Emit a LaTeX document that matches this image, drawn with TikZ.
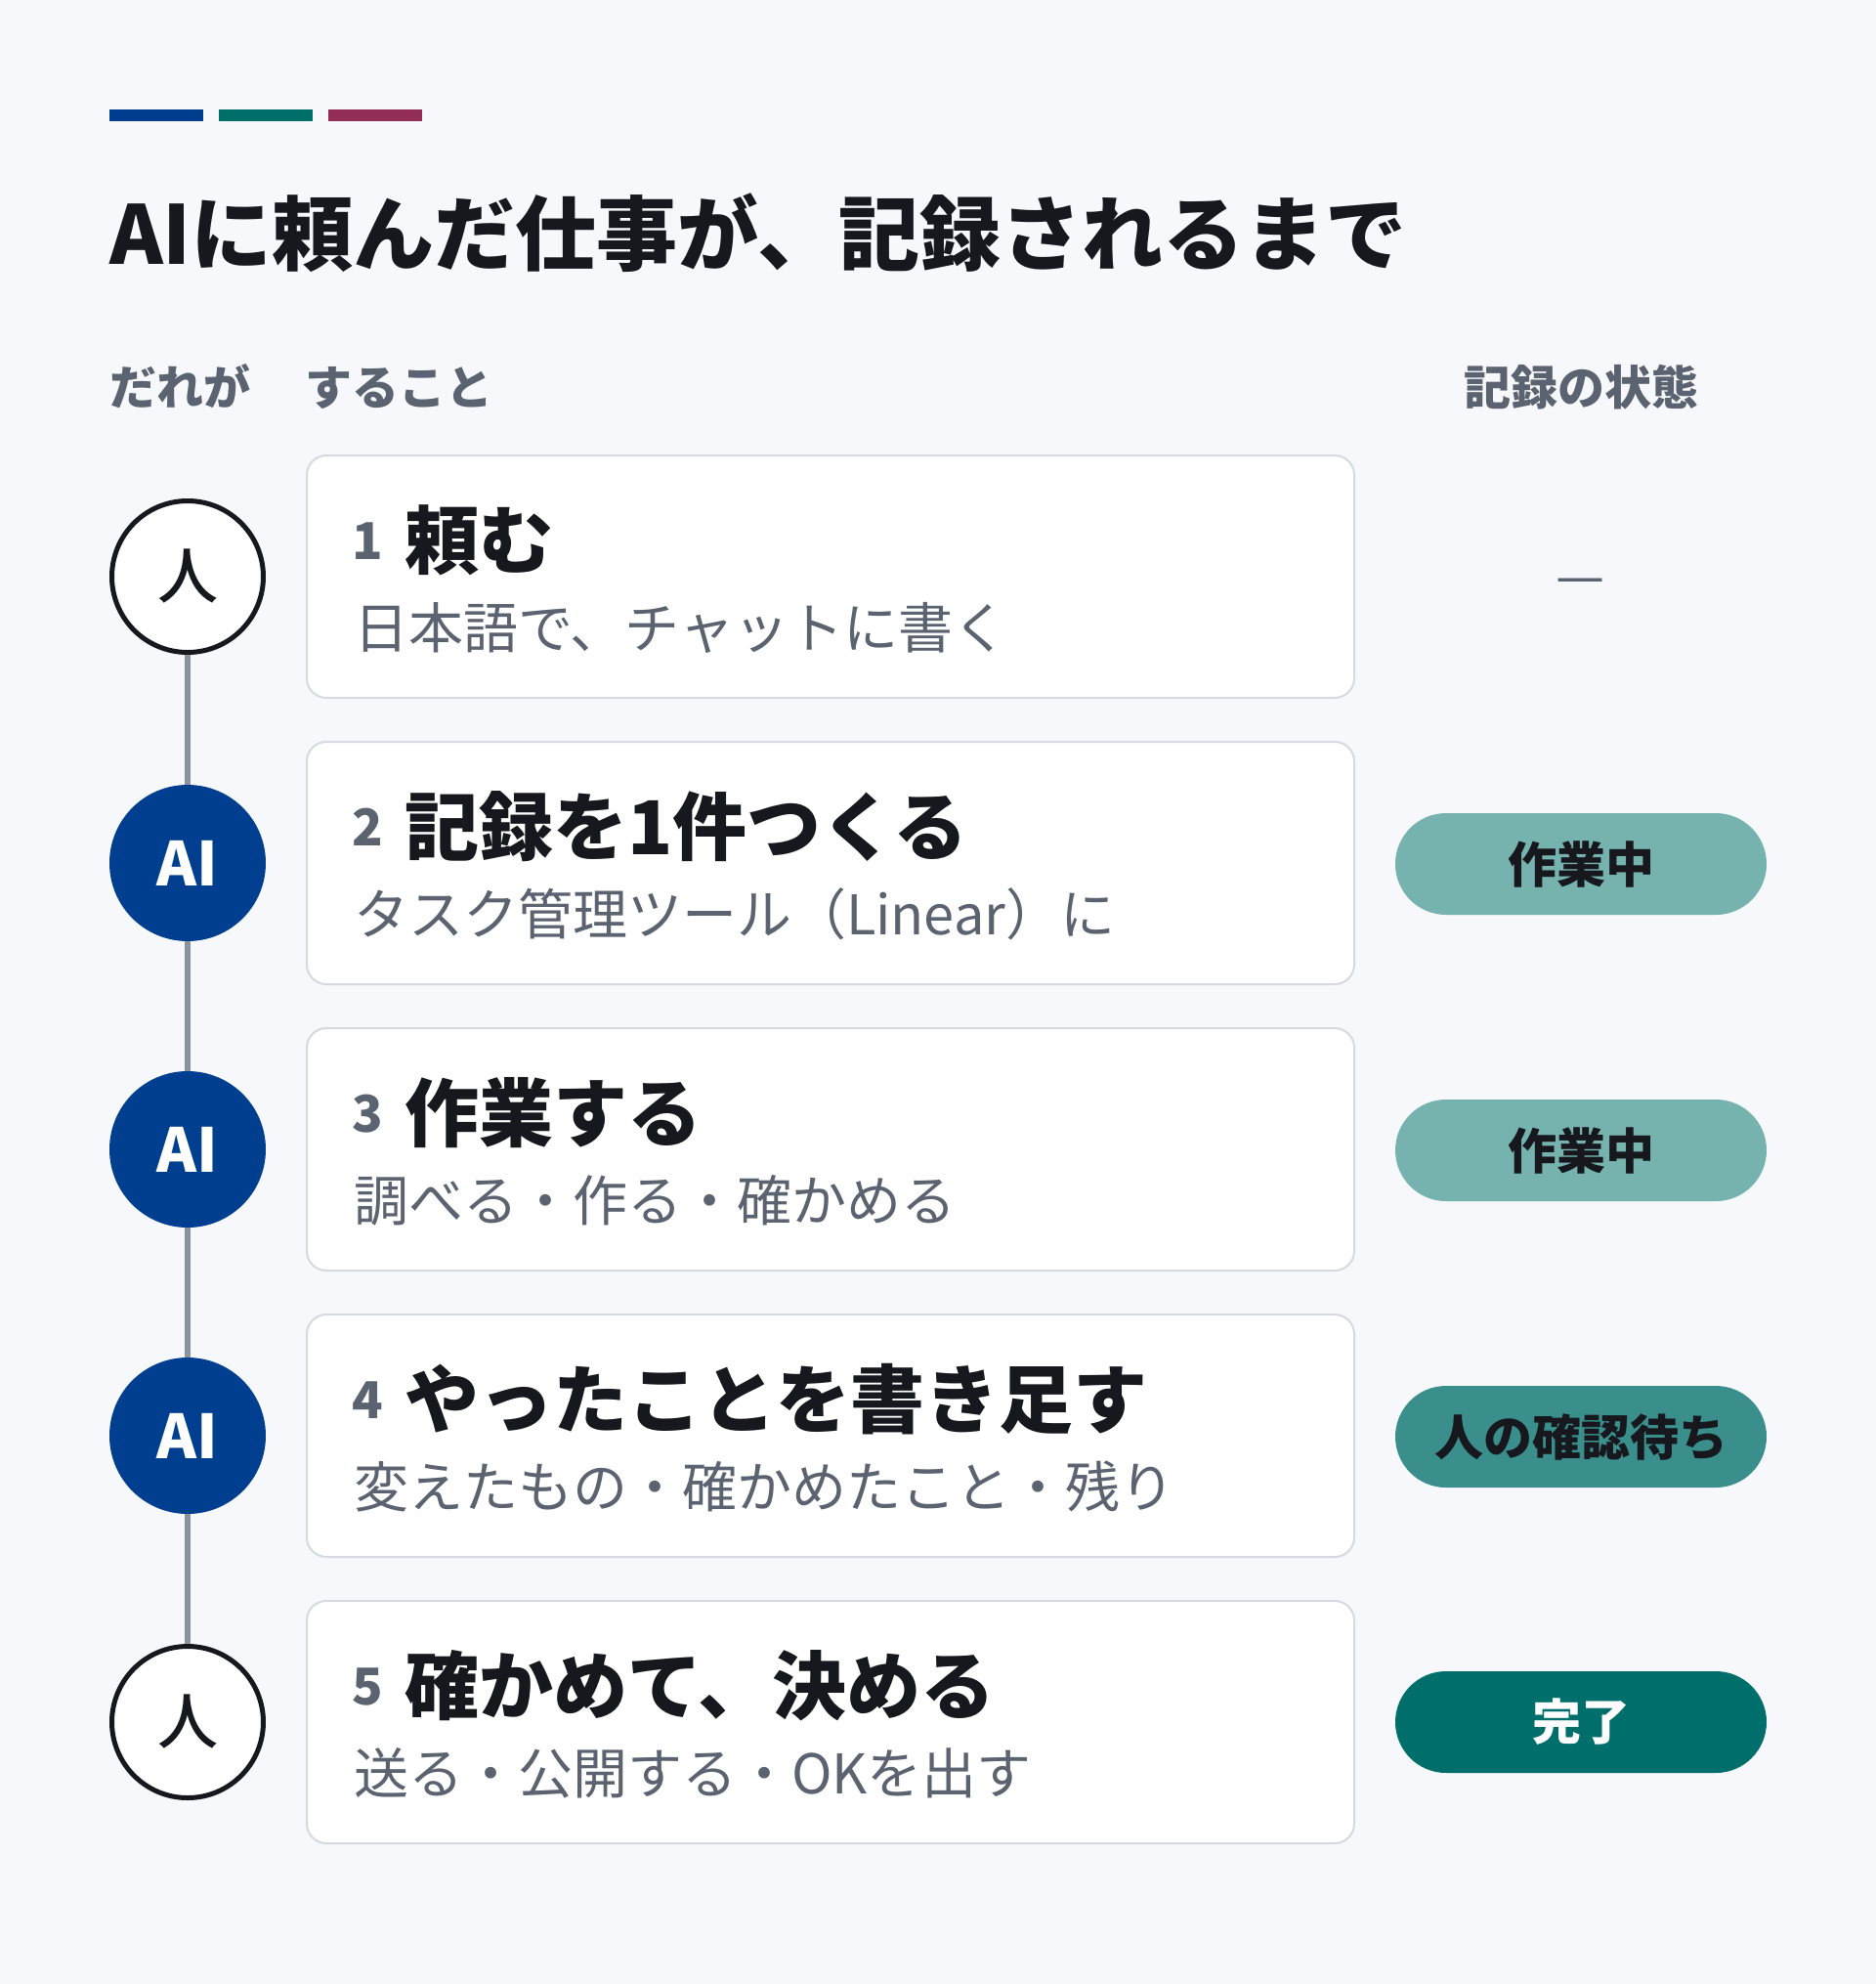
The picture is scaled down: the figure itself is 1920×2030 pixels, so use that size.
\documentclass[tikz,border=0pt]{standalone}
\usepackage{fontspec}
\setmainfont{Noto Sans CJK JP}
\newfontfamily\medfont{Noto Sans CJK JP Medium}
\definecolor{bgc}{HTML}{F6F8FB}
\definecolor{barA}{HTML}{003D8F}
\definecolor{barB}{HTML}{006E69}
\definecolor{barC}{HTML}{912D57}
\definecolor{ink}{HTML}{16181D}
\definecolor{muted}{HTML}{5C6370}
\definecolor{linec}{HTML}{8A94A3}
\definecolor{cardline}{HTML}{D5DAE1}
\definecolor{aiblue}{HTML}{003F8F}
\definecolor{pillA}{HTML}{76B3AF}
\definecolor{pillB}{HTML}{3A8E8B}
\definecolor{pillC}{HTML}{006E6A}
\newcommand\fsz[1]{\fontsize{#1}{#1}\selectfont}
\begin{document}
\begin{tikzpicture}[x=1pt,y=-1pt,
  txt/.style={inner sep=0pt, outer sep=0pt, anchor=base west},
  hdr/.style={txt, text=muted, font=\fsz{48}\bfseries},
  num/.style={txt, text=muted, font=\fsz{52}\bfseries},
  head/.style={txt, text=ink, font=\fsz{76}\bfseries},
  sub/.style={txt, text=muted, font=\fsz{56}},
  card/.style={draw=cardline, line width=2pt, fill=white, rounded corners=20pt,
    minimum width=1072pt, minimum height=248pt, inner sep=0pt},
  human/.style={circle, draw=ink, line width=5pt, fill=white, minimum size=155pt,
    inner sep=0pt, text=ink, font=\fsz{62}\medfont},
  ai/.style={circle, fill=aiblue, minimum size=160pt, inner sep=0pt,
    text=white, font=\fsz{62}\bfseries},
  pill/.style={rounded corners=52pt, minimum width=380pt, minimum height=104pt,
    inner sep=0pt, font=\fsz{50}\bfseries, text=ink},
  conn/.style={draw=linec, line width=6pt}
]
\fill[bgc] (0,0) rectangle (1920,2030);
\useasboundingbox (0,0) rectangle (1920,2030);
% colour bars
\fill[barA] (112,112) rectangle (208,124);
\fill[barB] (224,112) rectangle (320,124);
\fill[barC] (336,112) rectangle (432,124);
% title
\node[txt, text=ink, font=\fsz{83}\bfseries] (title) at (112,270) {AIに頼んだ仕事が、記録されるまで};
% column headers
\node[hdr] (h1) at (112,414) {だれが};
\node[hdr] (h2) at (312,414) {すること};
\node[hdr, anchor=base] (h3) at (1618,414) {記録の状態};
% cards
\node[card] (k1) at (850,590) {};
\node[card] (k2) at (850,883) {};
\node[card] (k3) at (850,1176) {};
\node[card] (k4) at (850,1469) {};
\node[card] (k5) at (850,1762) {};
% card texts
\node[num] (n1) at (360,572) {1};
\node[head] (t1) at (414,581) {頼む};
\node[sub] (s1) at (362,663) {日本語で、チャットに書く};
\node[num] (n2) at (360,865) {2};
\node[head] (t2) at (414,874) {記録を1件つくる};
\node[sub] (s2) at (362,956) {タスク管理ツール（Linear）に};
\node[num] (n3) at (360,1158) {3};
\node[head] (t3) at (414,1167) {作業する};
\node[sub] (s3) at (362,1249) {調べる・作る・確かめる};
\node[num] (n4) at (360,1451) {4};
\node[head] (t4) at (414,1460) {やったことを書き足す};
\node[sub] (s4) at (362,1542) {変えたもの・確かめたこと・残り};
\node[num] (n5) at (360,1744) {5};
\node[head] (t5) at (414,1753) {確かめて、決める};
\node[sub] (s5) at (362,1835) {送る・公開する・OKを出す};
% timeline circles
\node[human] (c1) at (192,590) {人};
\node[ai] (c2) at (192,883) {AI};
\node[ai] (c3) at (192,1176) {AI};
\node[ai] (c4) at (192,1469) {AI};
\node[human] (c5) at (192,1762) {人};
\draw[conn] (c1) -- (c2);
\draw[conn] (c2) -- (c3);
\draw[conn] (c3) -- (c4);
\draw[conn] (c4) -- (c5);
% states
\node[text=muted, font=\fsz{56}, inner sep=0pt] (d1) at (1618,601) {—};
\node[pill, fill=pillA] (p2) at (1618,884) {作業中};
\node[pill, fill=pillA] (p3) at (1618,1177) {作業中};
\node[pill, fill=pillB] (p4) at (1618,1470) {人の確認待ち};
\node[pill, fill=pillC, text=white] (p5) at (1618,1762) {完了};
\end{tikzpicture}
\end{document}
